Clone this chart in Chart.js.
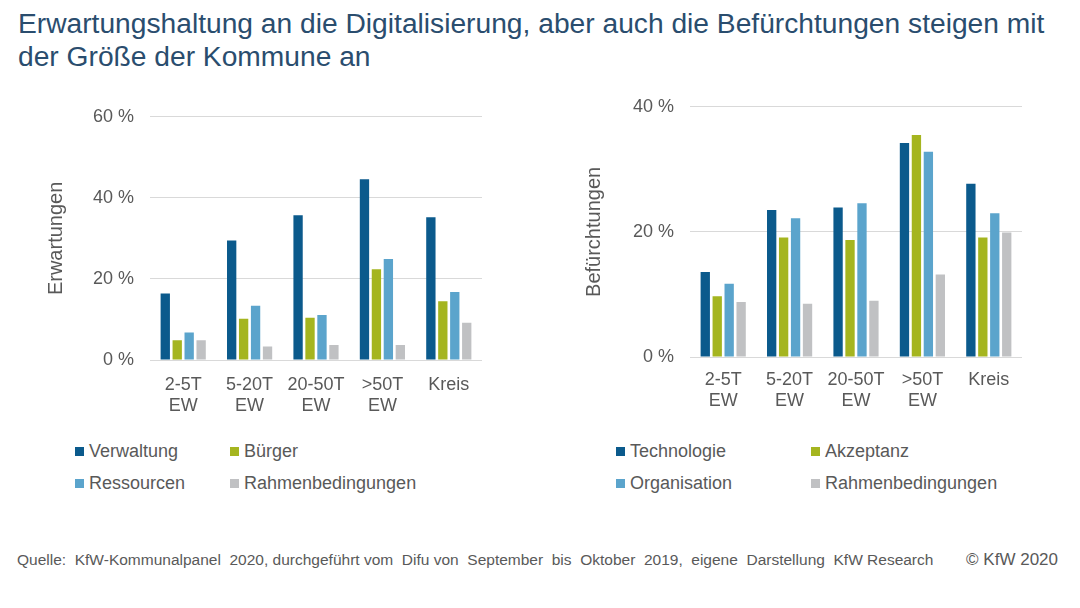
<!DOCTYPE html>
<html>
<head>
<meta charset="utf-8">
<script src="https://cdn.jsdelivr.net/npm/chart.js@4"></script>
<style>
  body { margin: 0; width: 1080px; height: 608px; background: #fff; position: relative; overflow: hidden;
         font-family: "Liberation Sans", Arial, sans-serif; }
  #title { position: absolute; left: 18px; top: 7px; font-size: 28.2px; line-height: 33px; color: #2a4d6e; white-space: nowrap; }
  .box { position: absolute; }
  .legend { position: absolute; font-size: 18px; color: #595959; }
  .legend span.item { position: absolute; white-space: nowrap; }
  .legend i { display: inline-block; width: 9px; height: 9px; margin-right: 5px; vertical-align: 1px; }
  #source { position: absolute; left: 17px; top: 551px; font-size: 15.5px; color: #595959; white-space: pre; }
  #copy { position: absolute; right: 22px; top: 550px; font-size: 17px; color: #595959; }
</style>
</head>
<body>
<div id="title">Erwartungshaltung an die Digitalisierung, aber auch die Befürchtungen steigen mit<br>der Größe der Kommune an</div>

<div class="box" style="left:40px; top:90px; width:450px; height:330px;"><canvas id="leftChart"></canvas></div>
<div class="box" style="left:580px; top:80px; width:450px; height:340px;"><canvas id="rightChart"></canvas></div>

<div class="legend" id="leftLegend"></div>
<div class="legend" id="rightLegend"></div>

<div id="source">Quelle:  KfW-Kommunalpanel  2020, durchgeführt vom  Difu von  September  bis  Oktober  2019,  eigene  Darstellung  KfW Research</div>
<div id="copy">© KfW 2020</div>

<script>
// Kategorien (Gemeindegröße)
var categories = [["2-5T", "EW"], ["5-20T", "EW"], ["20-50T", "EW"], [">50T", "EW"], "Kreis"];

// Erwartungen (in %)
var erwLabels = ["Verwaltung", "Bürger", "Ressourcen", "Rahmenbedingungen"];
var verwaltung = [16.4, 29.5, 35.7, 44.6, 35.2];
var buerger = [4.9, 10.2, 10.4, 22.4, 14.5];
var ressourcen = [6.8, 13.4, 11.1, 24.9, 16.8];
var rahmenErw = [4.9, 3.3, 3.7, 3.7, 9.2];
var erwTicks = [0, 20, 40, 60];

// Befürchtungen (in %)
var befLabels = ["Technologie", "Akzeptanz", "Organisation", "Rahmenbedingungen"];
var technologie = [13.6, 23.5, 23.9, 34.2, 27.7];
var akzeptanz = [9.7, 19.1, 18.7, 35.5, 19.1];
var organisation = [11.7, 22.2, 24.6, 32.8, 23.0];
var rahmenBef = [8.8, 8.5, 9.0, 13.2, 19.9];
var befTicks = [0, 20, 40];

var colors = ["#0b5a8c", "#a5b51f", "#5ba4cc", "#c0c1c3"];
var grey = "#595959";

function makeChart(id, labels, series, ticks, yTitle, cfg) {
  var datasets = [];
  for (var i = 0; i < series.length; i++) {
    datasets.push({
      label: labels[i],
      data: series[i],
      backgroundColor: colors[i],
      categoryPercentage: 0.72,
      barPercentage: 0.78,
    });
  }
  return new Chart(document.getElementById(id).getContext("2d"), {
    type: "bar",
    data: { labels: categories, datasets: datasets },
    options: {
      responsive: true,
      maintainAspectRatio: false,
      animation: false,
      layout: { padding: { top: 6, right: 8, left: 0, bottom: 0 } },
      plugins: { legend: { display: false }, tooltip: { enabled: false } },
      scales: {
        x: {
          grid: { display: false },
          border: { display: false },
          ticks: { color: grey, font: { size: 18 }, padding: cfg.xPad, maxRotation: 0, autoSkip: false },
          afterFit: function (scale) { scale.height = cfg.xHeight; },
        },
        y: {
          min: 0,
          max: ticks[ticks.length - 1],
          afterBuildTicks: function (scale) {
            scale.ticks = ticks.map(function (v) { return { value: v }; });
          },
          grid: { color: "#d9d9d9", drawTicks: false },
          border: { display: false },
          ticks: {
            color: grey,
            font: { size: 18 },
            padding: 16,
            callback: function (v) { return v + " %"; },
          },
          title: { display: true, text: yTitle, color: grey, font: { size: 20 }, padding: { top: cfg.titlePad, bottom: 0 } },
          afterFit: function (scale) { scale.width = 110; },
        },
      },
    },
  });
}

makeChart("leftChart", erwLabels, [verwaltung, buerger, ressourcen, rahmenErw], erwTicks, "Erwartungen",
  { xPad: 6, xHeight: 60, titlePad: 4 });
makeChart("rightChart", befLabels, [technologie, akzeptanz, organisation, rahmenBef], befTicks, "Befürchtungen",
  { xPad: 4, xHeight: 63, titlePad: 2 });

// Legenden (2 x 2)
function makeLegend(id, labels, left, colX) {
  var el = document.getElementById(id);
  el.style.left = left + "px";
  el.style.top = "441px";
  var rowY = [0, 32];
  for (var i = 0; i < labels.length; i++) {
    var s = document.createElement("span");
    s.className = "item";
    s.style.left = colX[i % 2] + "px";
    s.style.top = rowY[Math.floor(i / 2)] + "px";
    s.innerHTML = '<i style="background:' + colors[i] + '"></i>' + labels[i];
    el.appendChild(s);
  }
}
makeLegend("leftLegend", erwLabels, 75, [0, 155]);
makeLegend("rightLegend", befLabels, 616, [0, 195]);
</script>
</body>
</html>
